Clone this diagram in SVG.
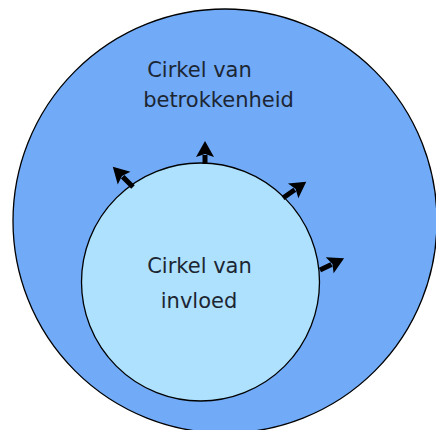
<svg xmlns="http://www.w3.org/2000/svg" width="436" height="430" viewBox="0 0 436 430">
  <style>
    .circ { stroke: #000; stroke-width: 1.3; }
    .lbl { font-family: "DejaVu Sans", "Liberation Sans", sans-serif; font-size: 21px; fill: #1c2633; text-anchor: middle; }
    .arr { stroke: #000; stroke-width: 5; fill: none; marker-end: url(#head); }
  </style>
  <defs>
    <marker id="head" markerUnits="userSpaceOnUse" markerWidth="20" markerHeight="20" refX="2" refY="9" orient="auto" overflow="visible">
      <path d="M0,0 L16,9 L0,18 L3,9 Z" fill="#000"/>
    </marker>
  </defs>
  <rect width="436" height="430" fill="#ffffff"/>
  <g id="outer">
    <circle class="circ" cx="225" cy="221" r="212" fill="#71aaf7"/>
    <text class="lbl" x="199.5" y="77">Cirkel van</text>
    <text class="lbl" x="218.5" y="107">betrokkenheid</text>
  </g>
  <g id="inner">
    <circle class="circ" cx="200.5" cy="282" r="119" fill="#aee1fd"/>
    <text class="lbl" x="199.5" y="273">Cirkel van</text>
    <text class="lbl" x="199" y="308">invloed</text>
  </g>
  <g id="connectors">
    <line class="arr" x1="133" y1="187" x2="122.7" y2="176.7"/>
    <line class="arr" x1="205" y1="164" x2="205" y2="155"/>
    <line class="arr" x1="283" y1="198" x2="294.8" y2="189.7"/>
    <line class="arr" x1="320" y1="270" x2="331.5" y2="264.4"/>
  </g>
</svg>
